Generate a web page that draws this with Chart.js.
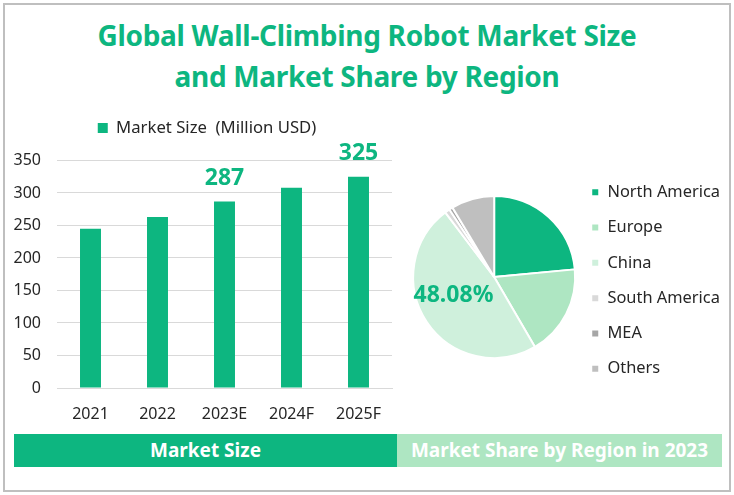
<!DOCTYPE html>
<html>
<head>
<meta charset="utf-8">
<script src="https://cdn.jsdelivr.net/npm/chart.js@4"></script>
<style>
  html, body { margin: 0; padding: 0; background: #fff; }
  body { width: 734px; height: 495px; position: relative; overflow: hidden; font-family: "Noto Sans", sans-serif; }
  #frame { position: absolute; left: 3px; top: 3px; width: 724px; height: 485px; border: 2px solid #bfbfbf; }
  .title { position: absolute; left: 0; width: 734px; text-align: center; color: #0db680; font-size: 28px; font-weight: 700; line-height: 36px; letter-spacing: -0.3px; white-space: nowrap; }
  .band { position: absolute; top: 434px; height: 33px; line-height: 32px; text-align: center; color: #fff; font-size: 19px; font-weight: 700; white-space: nowrap; }
  #bar-wrap { position: absolute; left: 0; top: 96px; width: 416px; height: 334px; }
  #pie-wrap { position: absolute; left: 400px; top: 142px; width: 334px; height: 270px; }
</style>
</head>
<body>
<div id="frame"></div>
<div class="title" style="top:17px">Global Wall-Climbing Robot Market Size</div>
<div class="title" style="top:58px">and Market Share by Region</div>
<div id="bar-wrap"><canvas id="market-bar"></canvas></div>
<div id="pie-wrap"><canvas id="region-pie"></canvas></div>
<div class="band" style="left:14px;width:383px;background:#0db680">Market Size</div>
<div class="band" style="left:397px;width:325px;background:#aee6c2">Market Share by Region in 2023</div>

<script>
const years = ['2021', '2022', '2023E', '2024F', '2025F'];
const marketSize = [245, 263, 287, 308, 325];
const barLabels = [null, null, '287', null, '325'];
const yTicks = [0, 50, 100, 150, 200, 250, 300, 350];

const regions = ['North America', 'Europe', 'China', 'South America', 'MEA', 'Others'];
const regionShare = [23.5, 18.1, 48.08, 1.0, 0.7, 8.62];
const pieLabels = [null, null, '48.08%', null, null, null];
const pieColors = ['#0db680', '#aee6c2', '#cff0dc', '#d9d9d9', '#a6a6a6', '#bfbfbf'];

const GREEN = '#0db680';
const FONT = '"Noto Sans", sans-serif';

// only a few points carry a value label in the picture
const valueLabels = {
  id: 'valueLabels',
  afterDatasetsDraw(chart, args, opts) {
    const ctx = chart.ctx;
    const meta = chart.getDatasetMeta(0);
    ctx.save();
    ctx.fillStyle = GREEN;
    ctx.font = '700 ' + opts.size + 'px ' + FONT;
    ctx.textAlign = 'center';
    ctx.textBaseline = 'middle';
    opts.labels.forEach((text, i) => {
      if (!text) return;
      const pos = meta.data[i].tooltipPosition();
      ctx.fillText(text, pos.x + opts.dx, pos.y + opts.dy);
    });
    ctx.restore();
  },
};

// the legends do not sit where the layout puts them, nudge them after layout
const legendShift = {
  id: 'legendShift',
  afterLayout(chart, args, opts) {
    const legend = chart.legend;
    legend.left += opts.dx;
    legend.right += opts.dx;
    legend.top += opts.dy;
    legend.bottom += opts.dy;
  },
};

new Chart(document.getElementById('market-bar'), {
  type: 'bar',
  plugins: [valueLabels, legendShift],
  options: {
    responsive: true,
    maintainAspectRatio: false,
    animation: false,
    layout: { padding: { top: 14, right: 24, bottom: 0, left: 0 } },
    plugins: {
      tooltip: { enabled: false },
      legend: {
        position: 'top',
        labels: { boxWidth: 10, boxHeight: 10, color: '#262626', font: { family: FONT, size: 16.7 }, padding: 23.75 },
      },
      legendShift: { dx: 11, dy: -14 },
      valueLabels: { labels: barLabels, size: 23, dx: 0, dy: -23 },
    },
    scales: {
      x: {
        grid: { display: false },
        border: { color: '#d9d9d9' },
        ticks: { color: '#262626', font: { family: FONT, size: 16 }, padding: 9, maxRotation: 0 },
        afterFit: (scale) => { scale.height = 42; },
      },
      y: {
        min: 0,
        max: 350,
        afterBuildTicks: (scale) => { scale.ticks = yTicks.map((v) => ({ value: v })); },
        grid: { color: '#d9d9d9', drawTicks: false },
        border: { display: false },
        ticks: { color: '#262626', font: { family: FONT, size: 16 }, padding: 16 },
        afterFit: (scale) => { scale.width = 57; },
      },
    },
  },
  data: {
    labels: years,
    datasets: [
      {
        label: 'Market Size  (Million USD)',
        data: marketSize,
        backgroundColor: GREEN,
        categoryPercentage: 1,
        barPercentage: 0.313,
      },
    ],
  },
});

new Chart(document.getElementById('region-pie'), {
  type: 'pie',
  plugins: [valueLabels, legendShift],
  options: {
    responsive: true,
    maintainAspectRatio: false,
    animation: false,
    layout: { padding: { top: 0, bottom: 0, left: 12, right: 0 } },
    plugins: {
      tooltip: { enabled: false },
      legend: {
        position: 'right',
        labels: { boxWidth: 8, boxHeight: 8, color: '#262626', font: { family: FONT, size: 16.4 }, padding: 18.9 },
      },
      legendShift: { dx: -4, dy: 3.5 },
      valueLabels: { labels: pieLabels, size: 23, dx: -7, dy: -4 },
    },
  },
  data: {
    labels: regions,
    datasets: [
      {
        data: regionShare,
        radius: 81,
        backgroundColor: pieColors,
        borderColor: '#fff',
        borderWidth: 2,
      },
    ],
  },
});
</script>
</body>
</html>
